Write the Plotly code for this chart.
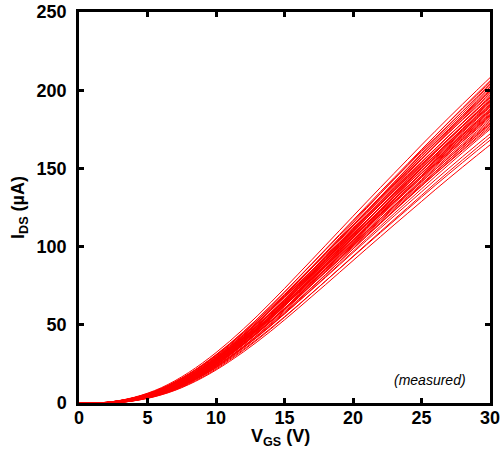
import numpy as np
import plotly.graph_objects as go

# Gate voltage sample points (V)
vgs = [0, 1, 2, 3, 4, 5, 6, 7, 8, 9, 10, 11, 12, 13, 14, 15, 16, 17, 18, 19, 20,
       21, 22, 23, 24, 25, 26, 27, 28, 29, 30]
# Typical (median) transfer curve, I_DS in uA
ids_typical = [0, 0, 0.4, 1.5, 3.2, 5.6, 8.7, 12.7, 17.4, 22.8, 28.8, 35.3, 42.3,
               49.7, 57.5, 65.5, 73.7, 81.9, 90.2, 98.5, 106.8, 115.0, 123.2,
               131.3, 139.4, 147.5, 155.4, 163.2, 170.9, 178.5, 186.0]
# Measured I_DS at V_GS = 30 V for each device (uA)
ids_at_30 = [208, 206, 205, 204, 203, 202, 201, 200, 199.5, 199, 198, 197, 196,
             195.5, 195, 194, 193.5, 193, 192.5, 192, 191, 190.5, 190, 189.5,
             189, 188, 187.5, 187, 186.5, 186, 185, 184.5, 184, 183.5, 183, 182,
             181, 180, 179, 178.5, 178, 177, 176, 175, 172, 170, 168, 165]
# Per-device threshold shift (V), read from the spread at low V_GS
vt_shift = [0.0, 0.7, 0.2, 0.9, 0.1, 0.5, 0.8, 0.3, 1.0, 0.1, 0.6, 0.0,
            0.8, 0.5, 0.2, 0.9, 0.4, 0.7, 0.0, 1.0, 0.5, 0.3, 0.8, 0.1,
            0.6, 1.0, 0.2, 0.7, 0.4, 0.9, 0.0, 0.5, 0.8, 0.3, 1.0, 0.1,
            0.6, 0.7, 0.2, 1.0, 0.5, 0.8, 0.4, 0.9, 0.7, 1.0, 0.8, 1.0]

v_arr = np.array(vgs, dtype=float)
i_arr = np.array(ids_typical, dtype=float)
fig = go.Figure()
for i30, dv in zip(ids_at_30, vt_shift):
    shifted = np.interp(v_arr - dv, v_arr, i_arr, left=0.0)
    # keep the end value fixed at the measured I(30 V)
    y = shifted * (i30 / shifted[-1])
    fig.add_trace(go.Scatter(
        x=vgs, y=y, mode="lines",
        line=dict(color="rgb(255,0,0)", width=1, shape="spline"),
        showlegend=False, hoverinfo="skip"))

font = dict(family="Liberation Sans, Arial, sans-serif", size=18, color="black", weight="bold")

axis_common = dict(
    showline=True, linecolor="black", linewidth=2.5, mirror="ticks",
    ticks="inside", ticklen=5, tickwidth=2.5, tickcolor="black",
    showgrid=False, zeroline=False, tickfont=font, automargin=False,
)

fig.update_layout(
    width=501, height=452,
    margin=dict(l=79, r=11, t=12, b=49),
    paper_bgcolor="white", plot_bgcolor="white",
    xaxis=dict(range=[0, 30], tickvals=[0, 5, 10, 15, 20, 25, 30],
               ticklabelstandoff=-3, **axis_common),
    yaxis=dict(range=[0, 250], tickvals=[0, 50, 100, 150, 200, 250],
               ticklabelstandoff=6, **axis_common),
    annotations=[
        dict(text="<i>(measured)</i>", x=0.855, y=0.058, xref="paper", yref="paper",
             showarrow=False, xanchor="center", yanchor="middle",
             font=dict(family="Liberation Sans, Arial, sans-serif", size=14, color="black")),
        dict(text="V<sub>GS</sub> (V)", x=0.49, y=-0.088, xref="paper", yref="paper",
             showarrow=False, xanchor="center", yanchor="middle", font=font),
        dict(text="I<sub>DS</sub> (µA)", x=-0.145, y=0.5, xref="paper", yref="paper",
             showarrow=False, xanchor="center", yanchor="middle", textangle=-90, font=font),
    ],
)

fig.write_html("out.html")
